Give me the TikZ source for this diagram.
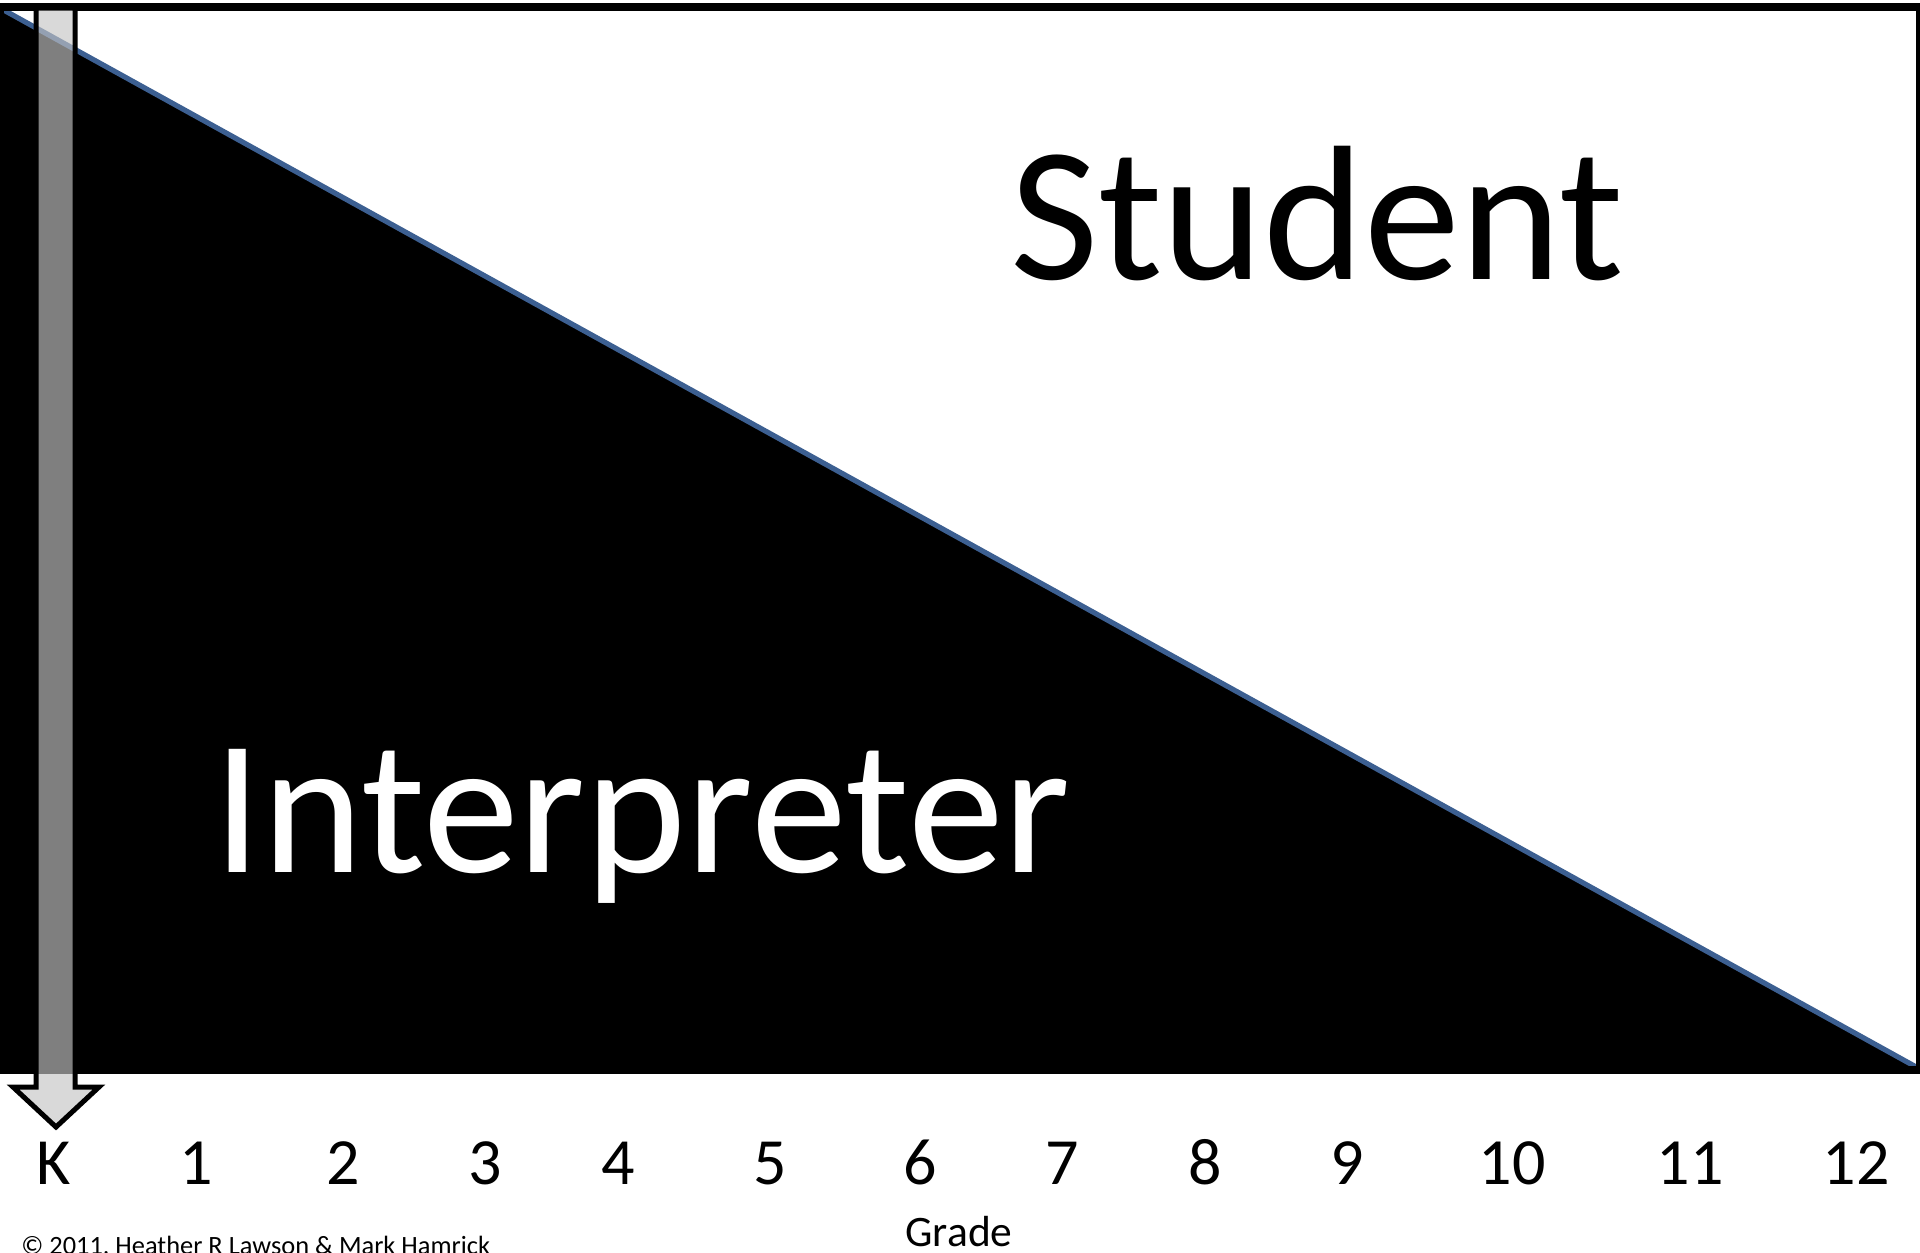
\documentclass[tikz,border=0pt]{standalone}
\usepackage{fontspec}
\setmainfont{Carlito}
\usetikzlibrary{positioning}
\definecolor{hypblue}{RGB}{60,95,145}
\definecolor{arrowgray}{RGB}{196,196,196}

\begin{document}
\begin{tikzpicture}[x=0.5pt, y=-0.5pt,
  grade/.style={font=\fontsize{33}{36}\selectfont, anchor=base},
  bigword/.style={font=\fontsize{96}{108}\selectfont, anchor=base},
  blockarrow/.style={draw=black, line width=2.5pt, line join=miter, fill=arrowgray, fill opacity=0.65}]
  \useasboundingbox (0,0) rectangle (1920,1252);
  % black share and frame
  \fill[black] (0,8) -- (1918,1068) -- (1918,1072) -- (0,1072) -- cycle;
  \draw[hypblue, line width=2.6pt] (0,8) -- (1918,1068);
  \draw[black, line width=4pt] (0,7) rectangle (1920,1070);
  \node[bigword] (student) at (1317,279) {Student};
  \node[bigword, text=white] (interp) at (642,872) {Interpreter};
  % grade axis
  \node[grade] (gK) at (54,1184) {K};
  \node[grade] (g1) at (196,1184) {1};
  \node[grade] (g2) at (343,1184) {2};
  \node[grade] (g3) at (485,1184) {3};
  \node[grade] (g4) at (618,1184) {4};
  \node[grade] (g5) at (770,1184) {5};
  \node[grade] (g6) at (920,1184) {6};
  \node[grade] (g7) at (1062,1184) {7};
  \node[grade] (g8) at (1205,1184) {8};
  \node[grade] (g9) at (1347,1184) {9};
  \node[grade] (g10) at (1512,1184) {10};
  \node[grade] (g11) at (1690,1184) {11};
  \node[grade] (g12) at (1856,1184) {12};
  \node[font=\fontsize{21.75}{24}\selectfont, anchor=base, inner sep=0pt] (gradelbl) at (959,1246) {Grade};
  \node[font=\fontsize{13.2}{15}\selectfont, anchor=base west, inner sep=0pt] (copy) at (21,1254) {© 2011, Heather R Lawson \& Mark Hamrick};
  % down arrow to K
  \draw[blockarrow] (36,8) -- (75,8) -- (75,1087) -- (99,1087) -- (56,1127) -- (13,1087) -- (36,1087) -- cycle;
\end{tikzpicture}
\end{document}
